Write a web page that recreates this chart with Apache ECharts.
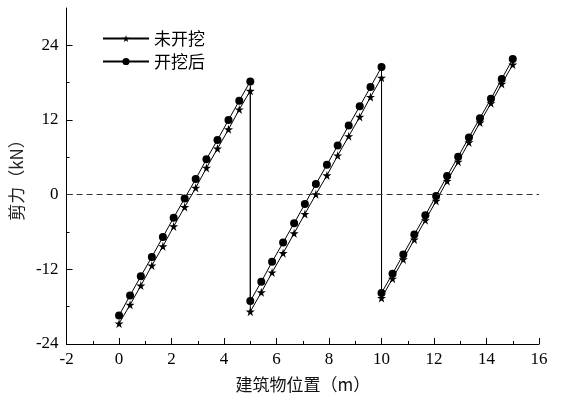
<!DOCTYPE html>
<html>
<head>
<meta charset="utf-8">
<script src="https://cdn.jsdelivr.net/npm/echarts@6/dist/echarts.min.js"></script>
<style>
  html, body { margin: 0; padding: 0; background: #fff; }
  #chart { width: 567px; height: 398px; }
</style>
</head>
<body>
<div id="chart"></div>
<script>
// building position (m)
var xPos = [
  0, 0.42, 0.83, 1.25, 1.67, 2.08, 2.5, 2.92, 3.33, 3.75, 4.17, 4.58, 5,
  5, 5.42, 5.83, 6.25, 6.67, 7.08, 7.5, 7.92, 8.33, 8.75, 9.17, 9.58, 10,
  10, 10.42, 10.83, 11.25, 11.67, 12.08, 12.5, 12.92, 13.33, 13.75, 14.17, 14.58, 15
];
// shear force (kN), before excavation
var shearBefore = [
  -20.7, -17.7, -14.6, -11.4, -8.3, -5.1, -2.0, 1.1, 4.3, 7.4, 10.5, 13.7, 16.7,
  -18.8, -15.7, -12.5, -9.4, -6.2, -3.1, 0.05, 3.1, 6.3, 9.4, 12.5, 15.7, 18.8,
  -16.6, -13.5, -10.4, -7.2, -4.1, -1.0, 2.2, 5.3, 8.4, 11.6, 14.7, 17.8, 20.9
];
// shear force (kN), after excavation
var shearAfter = [
  -19.4, -16.2, -13.1, -10.0, -6.8, -3.7, -0.6, 2.5, 5.7, 8.8, 12.0, 15.1, 18.2,
  -17.1, -14.0, -10.8, -7.7, -4.6, -1.5, 1.7, 4.8, 7.9, 11.1, 14.2, 17.3, 20.5,
  -15.8, -12.7, -9.6, -6.4, -3.3, -0.2, 3.0, 6.1, 9.2, 12.3, 15.4, 18.6, 21.8
];
var yMajor = [-24, -12, 0, 12, 24];
var yMinor = [-18, -6, 6, 18];

function pairs(ys) {
  return ys.map(function (v, i) { return [xPos[i], v]; });
}

var starPath = 'path://M50,0 L61,35 L98,35 L68,57 L79,91 L50,70 L21,91 L32,57 L2,35 L39,35 Z';
var serif = 'Liberation Serif';
var cjk = 'Noto Sans CJK SC';

var myChart = echarts.init(document.getElementById('chart'));
var option = {
  animation: false,
  backgroundColor: '#fff',
  textStyle: { fontFamily: serif },
  grid: { left: 59, right: 28, top: 8, bottom: 54 },
  legend: {
    orient: 'vertical',
    left: 97,
    top: 25,
    itemWidth: 46,
    itemHeight: 9,
    itemGap: 6,
    textStyle: { fontFamily: cjk, fontSize: 17, color: '#000' },
    data: ['未开挖', '开挖后']
  },
  xAxis: {
    type: 'value',
    min: -2,
    max: 16,
    interval: 2,
    name: '建筑物位置（m）',
    nameLocation: 'middle',
    nameGap: 32,
    nameTextStyle: { fontFamily: cjk, fontSize: 17, color: '#111' },
    axisLine: { onZero: false, lineStyle: { color: '#000', width: 1 } },
    axisTick: { inside: true, length: 6, lineStyle: { color: '#000' } },
    minorTick: { show: true, splitNumber: 2, length: 3, lineStyle: { color: '#000' } },
    axisLabel: { fontFamily: serif, fontSize: 17, color: '#000', margin: 7 },
    splitLine: { show: false }
  },
  yAxis: [{
    type: 'value',
    min: -24,
    max: 30,
    name: '剪力（kN）',
    nameLocation: 'middle',
    nameGap: 41,
    nameTextStyle: { fontFamily: cjk, fontSize: 17, color: '#222' },
    axisLine: { onZero: false, lineStyle: { color: '#000', width: 1 } },
    axisTick: { inside: true, length: 6, customValues: yMajor, lineStyle: { color: '#000' } },
    axisLabel: { fontFamily: serif, fontSize: 17, color: '#000', margin: 8, customValues: yMajor },
    splitLine: { show: false }
  }, {
    type: 'value',
    min: -24,
    max: 30,
    position: 'left',
    axisLine: { show: false, onZero: false },
    axisTick: { inside: true, length: 3, customValues: yMinor, lineStyle: { color: '#000' } },
    axisLabel: { show: false },
    splitLine: { show: false }
  }],
  series: [{
    name: '未开挖',
    type: 'line',
    data: pairs(shearBefore),
    symbol: starPath,
    symbolSize: 9,
    itemStyle: { color: '#000' },
    lineStyle: { color: '#000', width: 1 },
    markLine: {
      silent: true,
      symbol: 'none',
      label: { show: false },
      lineStyle: { color: '#333', type: [6, 4], width: 1 },
      data: [{ yAxis: 0 }]
    }
  }, {
    name: '开挖后',
    type: 'line',
    data: pairs(shearAfter),
    symbol: 'circle',
    symbolSize: 8,
    itemStyle: { color: '#000' },
    lineStyle: { color: '#000', width: 1 }
  }]
};
myChart.setOption(option);

window.addEventListener('resize', function () {
  myChart.resize();
});
</script>
</body>
</html>
